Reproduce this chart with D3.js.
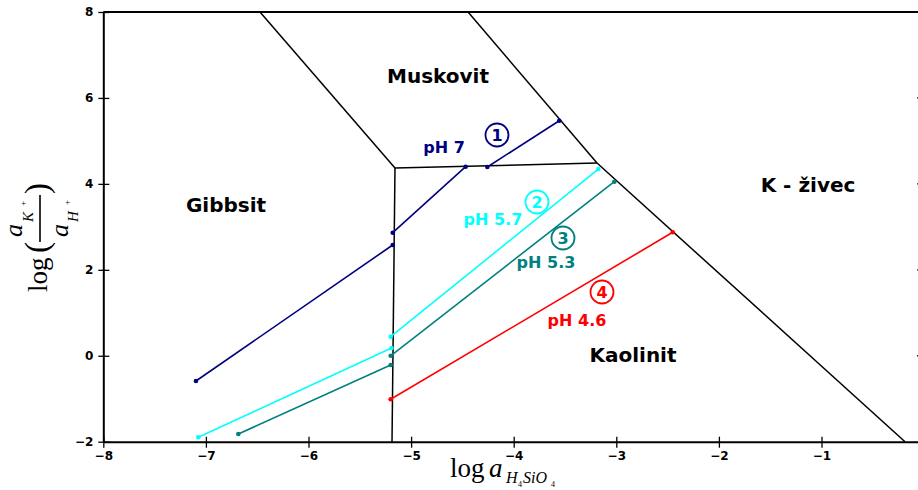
<!DOCTYPE html>
<html><head><meta charset="utf-8">
<script src="https://cdn.jsdelivr.net/npm/d3@7"></script>
<style>body{margin:0;background:#fff}svg{display:block}</style>
</head><body>
<svg id="c" width="918" height="490"></svg>
<script>
// ---- data ----
const xTicks = [-8, -7, -6, -5, -4, -3, -2, -1];
const yTicks = [-2, 0, 2, 4, 6, 8];
// phase boundaries (segments)
const boundaries = [
  [[-6.473, 8], [-5.157, 4.37]],
  [[-5.157, 4.37], [-5.186, -2]],
  [[-5.157, 4.37], [-3.188, 4.486]],
  [[-4.445, 8], [-3.188, 4.486]],
  [[-3.188, 4.486], [-0.186, -2]]
];
const ph7 = [
  [[-7.097, -0.588], [-5.179, 2.578]],
  [[-5.179, 2.864], [-4.468, 4.40]],
  [[-4.257, 4.393], [-3.556, 5.47]]
];
const ph57 = [
  [[-7.074, -1.898], [-5.191, 0.18]],
  [[-5.199, 0.444], [-3.175, 4.346]]
];
const ph53 = [
  [[-6.684, -1.821], [-5.199, -0.215]],
  [[-5.199, 0.0], [-3.019, 4.051]]
];
const ph46 = [
  [[-5.199, -1.013], [-2.45, 2.873]]
];
const seriesNames = ["pH 7", "pH 5.7", "pH 5.3", "pH 4.6"];
const seriesColors = ["#000080", "#00ffff", "#008080", "#ff0000"];
const seriesData = [ph7, ph57, ph53, ph46];
const seriesNumbers = ["1", "2", "3", "4"];
const regionNames = ["Muskovit", "Gibbsit", "K - živec", "Kaolinit"];

// ---- scales ----
const svg = d3.select("#c");
const x = d3.scaleLinear().domain([-8, 0]).range([103.3, 924.1]);
const y = d3.scaleLinear().domain([-2, 8]).range([441.7, 12]);
const fmt = d => (d < 0 ? "\u2212" + Math.abs(d) : String(d));

// boundaries
const line = d3.line().x(d => x(d[0])).y(d => y(d[1]));
svg.append("g").selectAll("path").data(boundaries).join("path")
  .attr("d", line).attr("fill", "none").attr("stroke", "#000").attr("stroke-width", 1.5);

// series
seriesData.forEach((segs, i) => {
  const g = svg.append("g");
  g.selectAll("path").data(segs).join("path")
    .attr("d", line).attr("fill", "none").attr("stroke", seriesColors[i]).attr("stroke-width", 1.6);
  g.selectAll("circle").data(segs.flat()).join("circle")
    .attr("cx", d => x(d[0])).attr("cy", d => y(d[1])).attr("r", 2.3)
    .attr("fill", seriesColors[i]);
});

// axes
const xAxis = d3.axisBottom(x).tickValues(xTicks).tickFormat(fmt).tickSizeInner(6).tickSizeOuter(0).tickPadding(4);
const gx = svg.append("g").attr("transform", `translate(0,${y(-2)})`).call(xAxis);
gx.selectAll(".tick line").attr("y1", -5).attr("y2", 6).attr("stroke-width", 1.3);
gx.select(".domain").attr("stroke-width", 2);
gx.selectAll("text").attr("font-family", "DejaVu Sans").attr("font-weight", "bold").attr("font-size", 12).attr("fill", "#000");

const yAxis = d3.axisLeft(y).tickValues(yTicks).tickFormat(fmt).tickSizeInner(5).tickSizeOuter(0).tickPadding(5);
const gy = svg.append("g").attr("transform", `translate(${x(-8)},0)`).call(yAxis);
gy.selectAll(".tick line").attr("x1", -5).attr("x2", 6).attr("stroke-width", 1.3);
gy.select(".domain").attr("stroke-width", 2);
gy.selectAll("text").attr("font-family", "DejaVu Sans").attr("font-weight", "bold").attr("font-size", 12).attr("fill", "#000");

// top spine & right spine ticks
svg.append("line").attr("x1", x(-8)).attr("x2", x(0)).attr("y1", y(8)).attr("y2", y(8))
  .attr("stroke", "#000").attr("stroke-width", 2);
svg.append("g").selectAll("line").data(yTicks.slice(1, -1)).join("line")
  .attr("x1", x(0) - 7).attr("x2", x(0)).attr("y1", d => y(d)).attr("y2", d => y(d))
  .attr("stroke", "#000").attr("stroke-width", 1.3);

// region labels
const regionPos = [[438, 83], [226, 212], [808, 192], [633, 362]];
svg.append("g").selectAll("text").data(regionNames).join("text")
  .attr("x", (d, i) => regionPos[i][0]).attr("y", (d, i) => regionPos[i][1])
  .attr("text-anchor", "middle").attr("font-family", "DejaVu Sans").attr("font-weight", "bold")
  .attr("font-size", 20).attr("fill", "#000").text(d => d);

// pH labels
const phPos = [[444, 153], [493, 225], [546, 268], [577, 326]];
svg.append("g").selectAll("text").data(seriesNames).join("text")
  .attr("x", (d, i) => phPos[i][0]).attr("y", (d, i) => phPos[i][1])
  .attr("text-anchor", "middle").attr("font-family", "DejaVu Sans").attr("font-weight", "bold")
  .attr("font-size", 16).attr("fill", (d, i) => seriesColors[i]).text(d => d);

// circled numbers
const numPos = [[497, 135], [537, 202], [563, 238], [602, 292]];
const gn = svg.append("g");
seriesNumbers.forEach((n, i) => {
  gn.append("circle").attr("cx", numPos[i][0]).attr("cy", numPos[i][1]).attr("r", 11.5)
    .attr("fill", "#fff").attr("stroke", seriesColors[i]).attr("stroke-width", 1.8);
  gn.append("text").attr("x", numPos[i][0]).attr("y", numPos[i][1] + 6)
    .attr("text-anchor", "middle").attr("font-family", "DejaVu Sans").attr("font-weight", "bold")
    .attr("font-size", 16).attr("fill", seriesColors[i]).text(n);
});

// x axis label: log a_{H4SiO4}
const xl = svg.append("text").attr("font-family", "Liberation Serif").attr("fill", "#000");
xl.append("tspan").attr("x", 450).attr("y", 477).attr("font-size", 27).text("log");
xl.append("tspan").attr("x", 489).attr("y", 477).attr("font-size", 27).attr("font-style", "italic").text("a");
xl.append("tspan").attr("x", 506).attr("y", 483).attr("font-size", 16).attr("font-style", "italic").text("H");
xl.append("tspan").attr("x", 518).attr("y", 487).attr("font-size", 8).text("4");
xl.append("tspan").attr("x", 523).attr("y", 483).attr("font-size", 16).attr("font-style", "italic").text("SiO");
xl.append("tspan").attr("x", 551).attr("y", 487).attr("font-size", 8).text("4");

// y axis label: log(a_{K+}/a_{H+})
const yl = svg.append("g").attr("transform", "rotate(-90)").attr("font-family", "Liberation Serif").attr("fill", "#000");
yl.append("text").attr("x", -292).attr("y", 47).attr("font-size", 27).text("log");
yl.append("text").attr("x", -253).attr("y", 48).attr("font-size", 33).text("(");
yl.append("text").attr("x", -237).attr("y", 22).attr("font-size", 26).attr("font-style", "italic").text("a");
yl.append("text").attr("x", -222).attr("y", 33).attr("font-size", 15).attr("font-style", "italic").text("K");
yl.append("text").attr("x", -206).attr("y", 26).attr("font-size", 9).text("+");
yl.append("line").attr("x1", -242).attr("x2", -195).attr("y1", 40).attr("y2", 40).attr("stroke", "#000").attr("stroke-width", 1.6);
yl.append("text").attr("x", -237).attr("y", 68).attr("font-size", 26).attr("font-style", "italic").text("a");
yl.append("text").attr("x", -222).attr("y", 78).attr("font-size", 15).attr("font-style", "italic").text("H");
yl.append("text").attr("x", -205).attr("y", 70).attr("font-size", 9).text("+");
yl.append("text").attr("x", -194).attr("y", 48).attr("font-size", 33).text(")");
</script>
</body></html>
